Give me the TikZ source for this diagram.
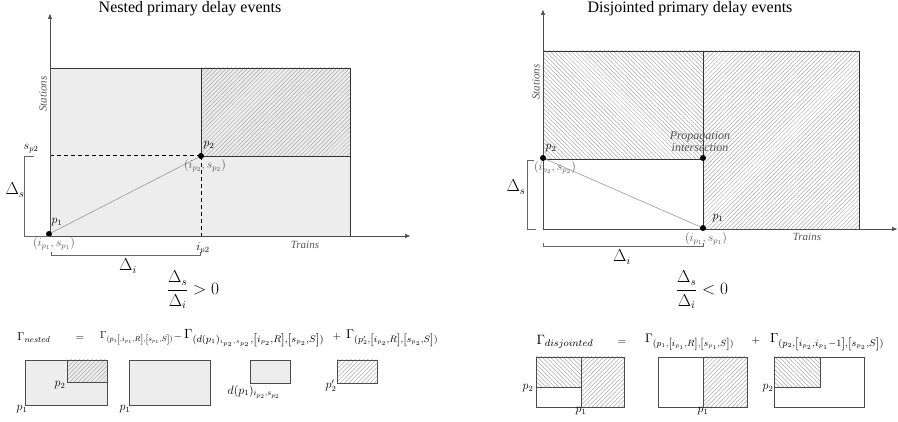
\documentclass[tikz,border=0pt]{standalone}
\usepackage{fontspec}
\setmainfont{Liberation Serif}
\usepackage{amsmath}
\usepackage{graphicx}
\usetikzlibrary{patterns.meta,arrows.meta}
\definecolor{fillgray}{HTML}{EDEDED}
\definecolor{hatchgray}{HTML}{A8A8A8}
\definecolor{labgray}{HTML}{555555}
\tikzset{
 region/.style={draw=black!80, line width=0.9pt},
 grayfill/.style={fill=fillgray},
 hatchNE/.style={pattern={Lines[angle=45,distance=3pt,line width=0.5pt]},pattern color=hatchgray},
 hatchNW/.style={pattern={Lines[angle=-45,distance=3pt,line width=0.5pt]},pattern color=hatchgray},
 axis/.style={draw=black!70, line width=0.5pt, -{Triangle[length=5pt,width=4pt]}},
 dot/.style={circle, fill=black, inner sep=0pt, minimum size=6pt},
 title/.style={font=\fontsize{16}{18}\selectfont},
 axlab/.style={font=\itshape\fontsize{11}{12}\selectfont, text=labgray},
 proplab/.style={font=\itshape\fontsize{12}{13}\selectfont, text=labgray},
 ptlab/.style={font=\fontsize{12}{14}\selectfont},
 coordlab/.style={font=\fontsize{11.5}{13}\selectfont, text=labgray},
 bigmath/.style={font=\fontsize{16}{18}\selectfont},
 bracket/.style={draw=black!60, line width=0.5pt},
 link/.style={draw=black!40, line width=0.6pt},
 guide/.style={draw=black, line width=1pt, dash pattern=on 4pt off 3pt},
 formula/.style={inner sep=0pt, font=\fontsize{11}{13}\selectfont},
 small/.style={draw=black!70, line width=0.9pt},
}
\begin{document}
\begin{tikzpicture}[x=1pt,y=-1pt]
\useasboundingbox (0,0) rectangle (898,422);

% ---------------- left: nested ----------------
\node[title] (tl) at (190,9) {Nested primary delay events};
\fill[grayfill] (50,68) rectangle (350,236);
\fill[hatchNE] (201,68) rectangle (350,156);
\draw[region] (50,68) rectangle (350,236);
\draw[region] (201,68) -- (201,156) -- (350,156);
\draw[guide] (50,156) -- (201,156);
\draw[guide] (201,156) -- (201,236);
\coordinate (ylb) at (50,236); \coordinate (ylt) at (50,14);
\coordinate (xlr) at (410,236);
\draw[axis] (ylb) -- (ylt);
\draw[axis] (ylb) -- (xlr);
\node[dot] (lp2) at (201,156) {};
\node[dot] (lp1) at (49,234) {};
\draw[link] (lp1) -- (lp2);
\node[ptlab] (lp2l) at (209,145) {$p_2$};
\node[coordlab] (lp2c) at (205,166) {$(i_{p_2},s_{p_2})$};
\node[ptlab] (lp1l) at (57,222) {$p_1$};
\node[coordlab] (lp1c) at (54,244) {$(i_{p_1},s_{p_1})$};
\node[axlab, rotate=90] (lst) at (43,94) {Stations};
\node[axlab] (ltr) at (305,245) {Trains};
\node[ptlab] (lsp) at (31,149) {$s_{p2}$};
\node[ptlab] (lip) at (203,248) {$i_{p2}$};
\draw[bracket] (34,156) -- (24,156) -- (24,236) -- (50,236);
\node[bigmath] (lds) at (15,190) {$\Delta_s$};
\draw[bracket] (51,252) -- (51,255) -- (200,255) -- (200,252);
\node[bigmath] (ldi) at (128,266) {$\Delta_i$};
\node[bigmath] (lfr) at (193,290) {$\dfrac{\Delta_s}{\Delta_i} > 0$};

% formula row left
\node[formula] (fn) at (34,338) {\resizebox{33pt}{!}{$\Gamma_{nested}$}};
\node[formula] (fe) at (80,338) {$=$};
\node[formula, anchor=west] (f1) at (100,338) {\resizebox{73pt}{!}{$\Gamma_{(p_1\left[,i_{p_1},R\right],\left[s_{p_1},S\right])}$}};
\node[formula] (fm) at (178,337) {$-$};
\node[formula, anchor=west] (f2) at (184,338) {\resizebox{140pt}{!}{$\Gamma_{(d(p_1)_{i_{p_2},s_{p_2}},\left[i_{p_2},R\right],\left[s_{p_2},S\right])}$}};
\node[formula] (fp) at (337,337) {$+$};
\node[formula, anchor=west] (f3) at (346,338) {\resizebox{92pt}{!}{$\Gamma_{(p_2',\left[i_{p_2},R\right],\left[s_{p_2},S\right])}$}};

% small boxes left
\fill[grayfill] (25,360) rectangle (107,405);
\fill[hatchNE] (67,360) rectangle (107,382);
\draw[small] (25,360) rectangle (107,405);
\draw[small] (67,360) -- (67,382) -- (107,382);
\node[ptlab] (b1p2) at (60,385) {$p_2$};
\node[ptlab] (b1p1) at (22,409) {$p_1$};
\fill[grayfill] (129,360) rectangle (210,405);
\draw[small] (129,360) rectangle (210,405);
\node[ptlab] (b2p1) at (125,409) {$p_1$};
\fill[grayfill] (250,360) rectangle (290,383);
\draw[small] (250,360) rectangle (290,383);
\node[ptlab] (b3l) at (254,392) {$d(p_1)_{i_{p_2},s_{p_2}}$};
\fill[hatchNE] (337,360) rectangle (377,383);
\draw[small] (337,360) rectangle (377,383);
\node[ptlab] (b4l) at (331,386) {$p_2'$};

% ---------------- right: disjointed ----------------
\node[title] (tr) at (690,9) {Disjointed primary delay events};
\fill[hatchNW] (543,51) rectangle (703,159);
\fill[hatchNE] (703,51) rectangle (859,229);
\draw[region] (543,51) rectangle (859,229);
\draw[region] (543,159) -- (703,159);
\draw[region] (703,51) -- (703,229);
\coordinate (yrb) at (543,229); \coordinate (yrt) at (543,10);
\coordinate (xrr) at (897,229);
\draw[axis] (yrb) -- (yrt);
\draw[axis] (yrb) -- (xrr);
\node[dot] (rp2) at (543,158) {};
\node[dot] (rpi) at (703,158) {};
\node[dot] (rp1) at (703,228) {};
\draw[link] (rp2) -- (rp1);
\node[ptlab] (rp2l) at (551,148) {$p_2$};
\node[coordlab] (rp2c) at (555,168) {$(i_{p_2},s_{p_2})$};
\node[ptlab] (rp1l) at (718,218) {$p_1$};
\node[coordlab] (rp1c) at (706,239) {$(i_{p_1},s_{p_1})$};
\node[proplab, align=center, inner sep=0pt] (rpr) at (700,142) {Propagation\\[-1pt]intersection};
\node[axlab, rotate=90] (rst) at (536,82) {Stations};
\node[axlab] (rtr) at (807,237) {Trains};
\draw[bracket] (534,160) -- (527,160) -- (527,229) -- (536,229);
\node[bigmath] (rds) at (516,187) {$\Delta_s$};
\draw[bracket] (543,243) -- (543,246) -- (703,246) -- (703,243);
\node[bigmath] (rdi) at (622,257) {$\Delta_i$};
\node[bigmath] (rfr) at (702,290) {$\dfrac{\Delta_s}{\Delta_i} < 0$};

% formula row right
\node[formula] (gn) at (565,342) {\resizebox{57pt}{!}{$\Gamma_{disjointed}$}};
\node[formula] (ge) at (622,342) {$=$};
\node[formula, anchor=west] (g1) at (645,342) {\resizebox{89pt}{!}{$\Gamma_{(p_1,\left[i_{p_1},R\right],\left[s_{p_1},S\right])}$}};
\node[formula] (gp) at (756,341) {$+$};
\node[formula, anchor=west] (g2) at (770,342) {\resizebox{114pt}{!}{$\Gamma_{(p_2,\left[i_{p_2},i_{p_1}-1\right],\left[s_{p_2},S\right])}$}};

% small boxes right
\fill[hatchNW] (536,357) rectangle (581,387);
\fill[hatchNE] (581,357) rectangle (624,407);
\draw[small] (536,357) rectangle (624,407);
\draw[small] (536,387) -- (581,387);
\draw[small] (581,357) -- (581,407);
\node[ptlab] (a2) at (528,388) {$p_2$};
\node[ptlab] (a1) at (581,411) {$p_1$};
\fill[hatchNE] (703,357) rectangle (747,407);
\draw[small] (658,357) rectangle (747,407);
\draw[small] (703,357) -- (703,407);
\node[ptlab] (bb1) at (703,411) {$p_1$};
\fill[hatchNW] (774,357) rectangle (820,387);
\draw[small] (774,357) rectangle (864,407);
\draw[small] (774,387) -- (820,387) -- (820,357);
\node[ptlab] (c2) at (768,388) {$p_2$};
\end{tikzpicture}
\end{document}
